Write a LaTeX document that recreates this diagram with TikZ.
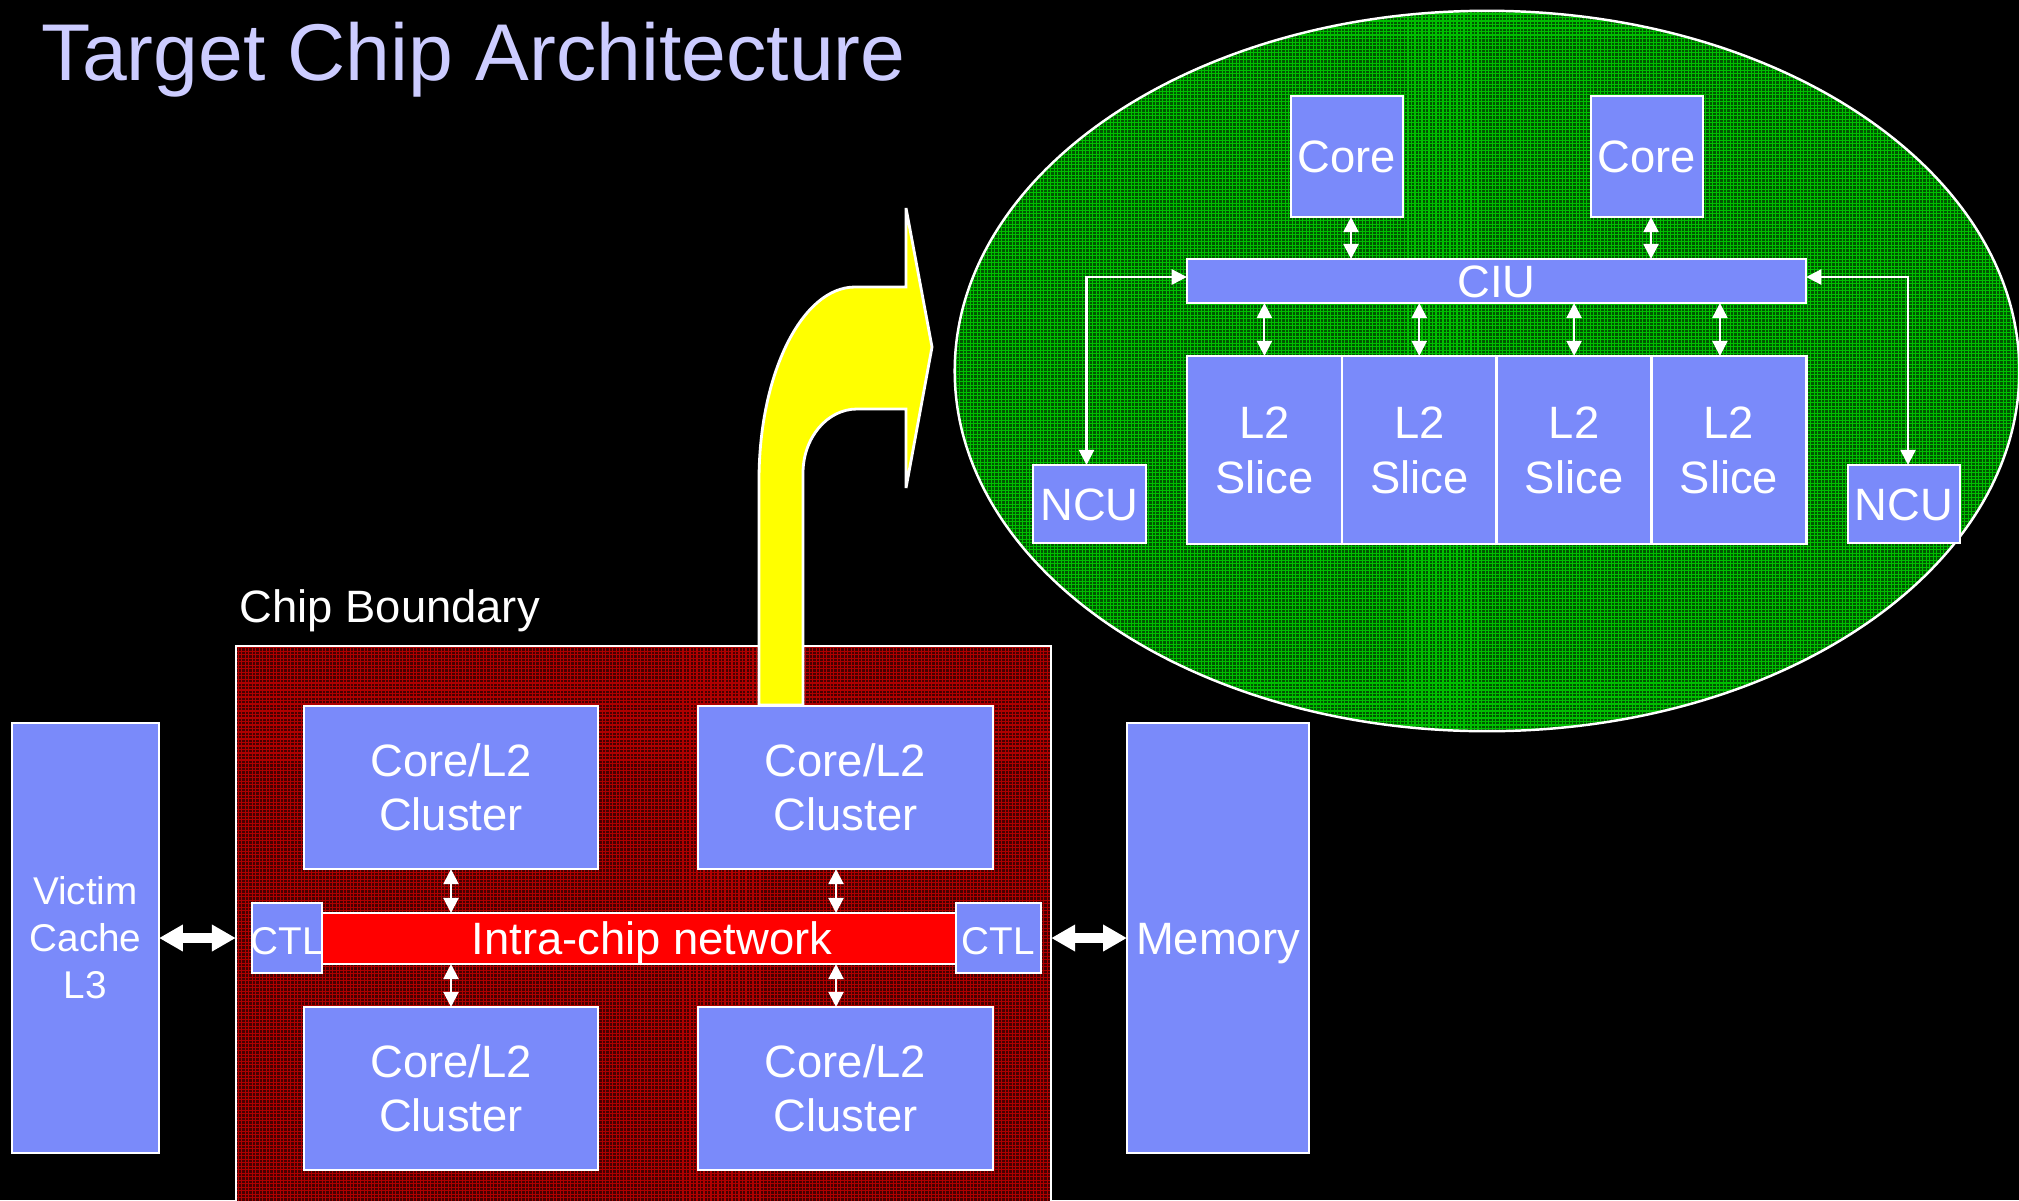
\documentclass[tikz,border=0pt]{standalone}
\usepackage{fontspec}
\setmainfont{Liberation Sans}
\usepackage{tikz}
\usetikzlibrary{arrows.meta,positioning}
\usepackage{xcolor}
\definecolor{boxblue}{RGB}{122,138,250}
\definecolor{titlelav}{RGB}{204,204,255}
\definecolor{chipred}{RGB}{70,0,0}
\definecolor{chipline}{RGB}{175,0,0}
\definecolor{ovalgreen}{RGB}{0,85,0}
\definecolor{ovalline}{RGB}{0,190,0}
\definecolor{netred}{RGB}{255,0,0}
\definecolor{arrowyel}{RGB}{255,255,0}
\tikzset{
	blk/.style={draw=white, line width=0.7pt, fill=boxblue, text=white,
		inner sep=0pt, outer sep=0pt, align=center},
	bigfont/.style={font=\fontsize{12.9pt}{15.5pt}\selectfont},
	smallfont/.style={font=\fontsize{11pt}{13.4pt}\selectfont},
	oneline/.style={text height=9.2pt, text depth=0pt},
	linkarrow/.style={white, line width=0.6pt,
		{Triangle[length=4.3pt,width=4.3pt]}-{Triangle[length=4.3pt,width=4.3pt]}},
	busarrow/.style={white, line width=3.1pt,
		{Triangle[length=6.8pt,width=7.2pt]}-{Triangle[length=6.8pt,width=7.2pt]}},
}

\begin{document}
\begin{tikzpicture}[x=0.01cm, y=-0.01cm] % {{{
		\useasboundingbox (0,0) rectangle (2019,1200);
		\fill[black] (0,0) rectangle (2019,1200);
		\node[anchor=base west, inner sep=0pt, text=titlelav, font=\fontsize{22.9pt}{27pt}\selectfont] (title) at (41,80) {Target Chip Architecture};
		% Oval: one cluster opened up {{{
		\begin{scope}
		\clip (1487,371) ellipse [x radius=5.32cm, y radius=3.6cm];
		\fill[ovalgreen] (955,731) rectangle (2019,10);
		\draw[ovalline, line width=0.3pt, step=0.035cm] (955,731) grid (2019,10);
		\end{scope}
		\draw[white, line width=0.7pt] (1487,371) ellipse [x radius=5.32cm, y radius=3.6cm];
		\node[blk, bigfont, oneline, minimum width=1.12cm, minimum height=1.21cm] (core1) at (1347,156.5) {Core};
		\node[blk, bigfont, oneline, minimum width=1.12cm, minimum height=1.21cm] (core2) at (1647,156.5) {Core};
		\node[blk, bigfont, oneline, minimum width=6.19cm, minimum height=0.44cm] (ciu) at (1496.5,281) {CIU};
		\node[blk, bigfont, font=\fontsize{12.9pt}{15.7pt}\selectfont, minimum width=1.5475cm, minimum height=1.88cm] (sl1) at (1264.4,450) {L2\\Slice};
		\node[blk, font=\fontsize{12.9pt}{15.7pt}\selectfont, minimum width=1.5475cm, minimum height=1.88cm, right=0pt of sl1] (sl2) {L2\\Slice};
		\node[blk, font=\fontsize{12.9pt}{15.7pt}\selectfont, minimum width=1.5475cm, minimum height=1.88cm, right=0pt of sl2] (sl3) {L2\\Slice};
		\node[blk, font=\fontsize{12.9pt}{15.7pt}\selectfont, minimum width=1.5475cm, minimum height=1.88cm, right=0pt of sl3] (sl4) {L2\\Slice};
		\node[blk, bigfont, oneline, minimum width=1.13cm, minimum height=0.78cm] (ncuL) at (1089.5,504) {NCU};
		\node[blk, bigfont, oneline, minimum width=1.12cm, minimum height=0.78cm] (ncuR) at (1904,504) {NCU};
		\coordinate (c1tap) at ([xshift=0.04cm]core1.south);
		\coordinate (c2tap) at ([xshift=0.04cm]core2.south);
		\coordinate (s4tap) at ([xshift=-0.09cm]sl4.north);
		\draw[linkarrow] (c1tap) -- (c1tap |- ciu.north);
		\draw[linkarrow] (c2tap) -- (c2tap |- ciu.north);
		\foreach \i in {1,...,3}
			\draw[linkarrow] (sl\i.north) -- (sl\i.north |- ciu.south);
		\draw[linkarrow] (s4tap) -- (s4tap |- ciu.south);
		\coordinate (ciuW) at ([yshift=0.04cm]ciu.west);
		\coordinate (ciuE) at ([yshift=0.04cm]ciu.east);
		\draw[linkarrow] (ciuW) -| ([xshift=-0.03cm]ncuL.north);
		\draw[linkarrow] (ciuE) -| ([xshift=0.04cm]ncuR.north);
		% }}}
		% Chip {{{
		\node[anchor=base west, inner sep=0pt, text=white, font=\fontsize{12.9pt}{15pt}\selectfont] (chiplabel) at (239,622) {Chip Boundary};
		\node[fill=chipred, inner sep=0pt, outer sep=0pt, minimum width=8.15cm, minimum height=5.69cm] (chip) at (643.5,930.5) {};
		\draw[chipline, line width=0.3pt, step=0.035cm] (chip.south west) grid (chip.north east);
		\draw[white, line width=0.7pt] (chip.south west) rectangle (chip.north east);
		% the zoom arrow, on top of the boundary
		\draw[white, line width=0.8pt, fill=arrowyel] (759,705) -- (759,480)
			.. controls (759,374) and (802,287) .. (855,287) -- (906,287) -- (906,208)
			-- (932,347) -- (906,488) -- (906,409) -- (857,409)
			.. controls (827,409) and (803,438) .. (803,473) -- (803,705) -- cycle;
		\node[blk, bigfont, minimum width=2.94cm, minimum height=1.63cm] (clTL) at (451,787.5) {Core/L2\\Cluster};
		\node[blk, bigfont, minimum width=2.95cm, minimum height=1.63cm] (clTR) at (845.5,787.5) {Core/L2\\Cluster};
		\node[blk, bigfont, minimum width=2.94cm, minimum height=1.63cm] (clBL) at (451,1088.5) {Core/L2\\Cluster};
		\node[blk, bigfont, minimum width=2.95cm, minimum height=1.63cm] (clBR) at (845.5,1088.5) {Core/L2\\Cluster};
		\node[blk, bigfont, oneline, fill=netred, minimum width=6.35cm, minimum height=0.51cm] (net) at (639.5,938.5) {\makebox[0pt]{\hspace{0.25cm}Intra-chip network}};
		\node[blk, smallfont, oneline, minimum width=0.70cm, minimum height=0.70cm] (ctlL) at (287,938) {\makebox[0pt]{CTL}};
		\node[blk, smallfont, oneline, minimum width=0.85cm, minimum height=0.70cm] (ctlR) at (998.5,938) {\makebox[0pt]{CTL}};
		\coordinate (tapT) at ([xshift=-0.095cm]clTR.south);
		\coordinate (tapB) at ([xshift=-0.095cm]clBR.north);
		\draw[linkarrow] (clTL.south) -- (clTL.south |- net.north);
		\draw[linkarrow] (tapT) -- (tapT |- net.north);
		\draw[linkarrow] (clBL.north) -- (clBL.north |- net.south);
		\draw[linkarrow] (tapB) -- (tapB |- net.south);
		% }}}
		% Off chip {{{
		\node[blk, smallfont, minimum width=1.47cm, minimum height=4.30cm] (victim) at (85.5,938) {Victim\\Cache\\L3};
		\node[blk, bigfont, oneline, minimum width=1.82cm, minimum height=4.30cm] (memory) at (1218,938) {Memory};
		\draw[busarrow] (victim.east) -- (victim.east -| chip.west);
		\draw[busarrow] (memory.west) -- (memory.west -| chip.east);
		% }}}
\end{tikzpicture} % }}}
\end{document}
